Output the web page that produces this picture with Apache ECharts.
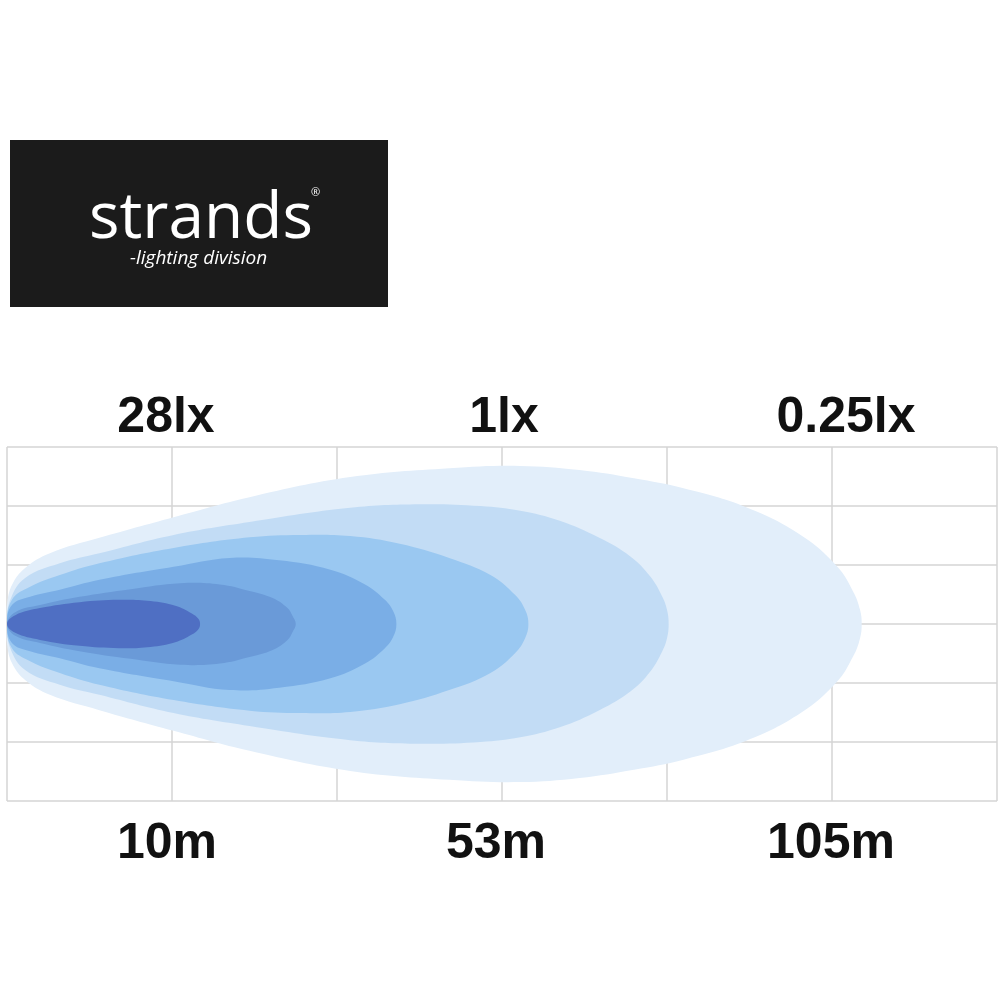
<!DOCTYPE html>
<html>
<head>
<meta charset="utf-8">
<style>html,body{margin:0;padding:0;background:#fff;}#c{width:1000px;height:1000px;}</style>
<script src="https://cdn.jsdelivr.net/npm/echarts@6/dist/echarts.min.js"></script>
</head>
<body>
<div id="c"></div>
<script>
// Axis ticks (grid units) and labels
const tickPositions = [1, 3, 5];
const distanceLabels = ['10m', '53m', '105m'];
const luxLabels = ['28lx', '1lx', '0.25lx'];

// Upper half-profiles of the beam isolux zones: [distance, half-width] in grid units
const zone025 = [[0,0],[0,0.32],[0.03,0.66],[0.11,0.95],[0.26,1.20],[0.56,1.46],[1.01,1.81],[1.47,2.15],[2.08,2.49],[2.68,2.64],[3.11,2.68],[3.47,2.61],[3.80,2.47],[4.10,2.30],[4.48,1.98],[4.81,1.51],[5.03,0.98],[5.13,0.54],[5.17,0.24],[5.18,0]];
const zone1 = [[0,0],[0.02,0.41],[0.11,0.78],[0.32,1.03],[0.56,1.20],[1.01,1.51],[1.47,1.73],[2.08,1.97],[2.50,2.03],[2.87,2.00],[3.11,1.92],[3.35,1.75],[3.59,1.46],[3.78,1.14],[3.90,0.80],[3.97,0.47],[4.00,0.24],[4.01,0]];
const zone3 = [[0,0],[0.03,0.41],[0.14,0.63],[0.32,0.83],[0.56,1.03],[1.01,1.29],[1.47,1.47],[1.78,1.51],[2.08,1.49],[2.38,1.36],[2.68,1.12],[2.93,0.83],[3.08,0.49],[3.14,0.24],[3.16,0]];
const zone8 = [[0,0],[0.03,0.32],[0.14,0.46],[0.32,0.58],[0.56,0.75],[1.01,0.97],[1.35,1.12],[1.65,1.08],[1.96,0.92],[2.17,0.67],[2.29,0.41],[2.34,0.22],[2.36,0]];
const zone15 = [[0,0],[0.05,0.20],[0.2,0.32],[0.44,0.46],[0.75,0.59],[1.05,0.69],[1.29,0.67],[1.47,0.56],[1.61,0.44],[1.70,0.27],[1.73,0.14],[1.75,0]];
const zone28 = [[0,0],[0.05,0.15],[0.2,0.27],[0.44,0.37],[0.68,0.41],[0.87,0.39],[1.02,0.31],[1.12,0.18],[1.16,0.09],[1.17,0]];

const zones = [zone025, zone1, zone3, zone8, zone15, zone28];
const zoneColors = ['#e2eefa', '#c2dcf5', '#9ac8f1', '#7aaee6', '#6a9ad8', '#4f6fc3'];

function makeZoneSeries(zone, color) {
  return {
    type: 'custom',
    coordinateSystem: 'cartesian2d',
    xAxisIndex: 0, yAxisIndex: 0,
    silent: true,
    clip: false,
    data: zone,
    renderItem: function (params, api) {
      if (params.dataIndex !== 0) return null;
      const pts = [];
      for (let i = 0; i < zone.length; i++) pts.push(api.coord([zone[i][0], zone[i][1]]));
      for (let i = zone.length - 2; i > 0; i--) pts.push(api.coord([zone[i][0], -zone[i][1]]));
      return { type: 'polygon', shape: { points: pts, smooth: 0.4 }, style: { fill: color } };
    }
  };
}

function labelFor(list, keys) {
  return function (v) {
    const i = tickPositions.indexOf(Math.round(v * 1000) / 1000);
    return i >= 0 ? '{' + keys[i] + '|' + list[i] + '}' : '';
  };
}

const baseText = { color: '#111', fontSize: 50, fontWeight: 'bold', fontFamily: 'Liberation Sans, Arial, sans-serif' };
function richFrom(pads) {
  const r = {};
  Object.keys(pads).forEach(function (k) { r[k] = Object.assign({ padding: pads[k] }, baseText); });
  return r;
}

const chart = echarts.init(document.getElementById('c'), null, { renderer: 'canvas' });
chart.setOption({
  backgroundColor: '#ffffff',
  animation: false,
  grid: { left: 7, right: 3, top: 447, bottom: 199 },
  xAxis: [
    {
      type: 'value', min: 0, max: 6, interval: 1, position: 'bottom',
      axisLine: { show: false }, axisTick: { show: false },
      splitLine: { show: true, lineStyle: { color: '#d4d4d4', width: 1.5 } },
      axisLabel: Object.assign({ margin: 18, formatter: labelFor(distanceLabels, ['a', 'b', 'c']),
        rich: richFrom({ a: [0, 10, 0, 0], b: [0, 12, 0, 0], c: [0, 2, 0, 0] }) }, baseText)
    },
    {
      type: 'value', min: 0, max: 6, interval: 1, position: 'top',
      axisLine: { show: false }, axisTick: { show: false }, splitLine: { show: false },
      axisLabel: Object.assign({ margin: 4, formatter: labelFor(luxLabels, ['a', 'b', 'c']),
        rich: richFrom({ a: [0, 12, 0, 0], b: [0, 0, 0, 4], c: [0, 0, 0, 28] }) }, baseText)
    }
  ],
  yAxis: {
    type: 'value', min: -3, max: 3, interval: 1,
    axisLine: { show: false }, axisTick: { show: false }, axisLabel: { show: false },
    splitLine: { show: true, lineStyle: { color: '#d4d4d4', width: 1.5 } }
  },
  graphic: [
    { type: 'rect', left: 10, top: 140, shape: { width: 378, height: 167 }, style: { fill: '#1b1b1b' } },
    { type: 'text', left: 89, top: 188, style: { text: 'strands', fill: '#ffffff', font: '64px "Open Sans", sans-serif' } },
    { type: 'text', left: 311, top: 187, style: { text: '®', fill: '#ffffff', font: '11px "Open Sans", sans-serif' } },
    { type: 'text', left: 130, top: 249, style: { text: '-lighting division', fill: '#ffffff', font: 'italic 19px "Open Sans", sans-serif' } }
  ],
  series: zones.map(function (z, i) { return makeZoneSeries(z, zoneColors[i]); })
});
</script>
</body>
</html>
